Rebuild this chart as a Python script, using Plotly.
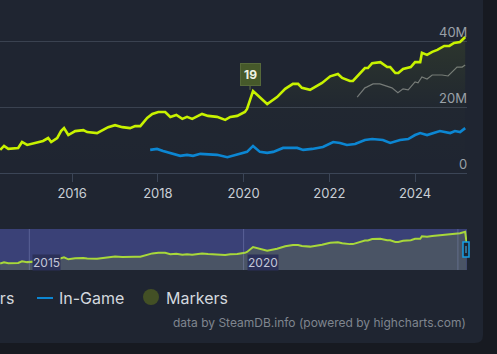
import plotly.graph_objects as go

# ---------------- data (decimal years, millions) ----------------
players_x = [2014.32, 2014.41, 2014.51, 2014.74, 2014.83, 2014.95, 2015.32, 2015.44, 2015.51, 2015.65,
             2015.74, 2015.81, 2015.91, 2016.07, 2016.26, 2016.35, 2016.58, 2016.84, 2017.00, 2017.17,
             2017.35, 2017.47, 2017.59, 2017.75, 2017.87, 2018.01, 2018.17, 2018.29, 2018.43, 2018.57,
             2018.68, 2018.80, 2019.03, 2019.17, 2019.38, 2019.57, 2019.69, 2019.85, 2020.03, 2020.08,
             2020.22, 2020.38, 2020.55, 2020.78, 2020.97, 2021.15, 2021.27, 2021.36, 2021.55, 2021.83,
             2022.02, 2022.20, 2022.30, 2022.48, 2022.55, 2022.83, 2022.90, 2023.00, 2023.19, 2023.35,
             2023.42, 2023.54, 2023.61, 2023.72, 2023.90, 2024.00, 2024.12, 2024.16, 2024.28, 2024.40,
             2024.52, 2024.68, 2024.80, 2024.91, 2025.05, 2025.17]
players_y = [7.0, 8.2, 7.3, 7.6, 9.4, 8.5, 9.7, 10.6, 9.4, 10.6,
             12.7, 13.6, 11.5, 12.7, 13.0, 12.4, 12.1, 13.9, 14.5, 13.9,
             13.6, 14.2, 14.2, 16.7, 17.9, 18.5, 18.5, 17.0, 17.6, 16.4,
             17.0, 16.4, 17.9, 17.3, 17.0, 16.1, 17.0, 17.3, 18.5, 19.4,
             24.8, 23.0, 20.9, 23.0, 25.5, 27.0, 27.0, 25.8, 25.2, 27.3,
             29.3, 30.0, 28.8, 27.9, 27.9, 31.8, 31.8, 33.3, 33.6, 32.1,
             32.1, 30.3, 30.3, 31.5, 32.1, 33.6, 33.6, 36.4, 35.8, 36.7,
             37.3, 38.5, 38.5, 39.4, 39.7, 41.2]

ingame_x = [2017.82, 2017.98, 2018.12, 2018.29, 2018.52, 2018.68, 2018.82, 2018.99, 2019.38, 2019.62,
            2019.92, 2020.08, 2020.15, 2020.22, 2020.38, 2020.55, 2020.69, 2020.92, 2021.25, 2021.39,
            2021.60, 2021.85, 2022.09, 2022.25, 2022.41, 2022.60, 2022.83, 2023.00, 2023.25, 2023.42,
            2023.65, 2023.84, 2024.00, 2024.12, 2024.28, 2024.42, 2024.58, 2024.82, 2024.93, 2025.05,
            2025.17]
ingame_y = [7.0, 7.3, 6.7, 6.1, 5.2, 5.5, 5.2, 5.8, 5.5, 4.8,
            5.8, 6.4, 7.3, 8.2, 6.4, 6.1, 6.4, 7.6, 7.6, 7.0,
            7.3, 7.9, 9.4, 9.1, 8.5, 8.8, 10.0, 10.3, 10.0, 9.1,
            10.0, 10.3, 11.5, 12.1, 11.5, 12.1, 12.7, 12.1, 12.7, 12.4,
            13.6]

grey_x = [2022.65, 2022.83, 2022.88, 2023.02, 2023.18, 2023.35, 2023.46, 2023.60, 2023.72, 2023.84,
          2024.00, 2024.07, 2024.16, 2024.28, 2024.40, 2024.63, 2024.77, 2024.98, 2025.10, 2025.17]
grey_y = [23.0, 25.8, 26.1, 27.0, 27.0, 26.4, 25.8, 24.3, 25.5, 25.2,
          27.6, 27.3, 29.1, 28.5, 29.7, 29.7, 29.4, 32.1, 32.1, 32.7]

nav_tail_x = [2025.20]
nav_tail_y = [30.0]

marker_x = [2020.15]
marker_y = [25.2]
marker_text = ["19"]

x_ticks = [2014, 2016, 2018, 2020, 2022, 2024]
y_ticks = [0, 20, 40]
y_ticktext = ["0", "20M", "40M"]
nav_ticks = [2015, 2020, 2025]
nav_labels = ["2015", "2020"]

legend_names = ["Players", "In-Game", "Markers"]
credits = "data by SteamDB.info (powered by highcharts.com)"

# ---------------- styling ----------------
W, H = 497, 354
FONT = "Inter"
LIME = "#c8f200"
BLUE = "#0c86d2"
GREY = "#73777c"
PANEL = "#1f2531"
OUTER = "#171a21"
GRID = "#3a4250"
X0, X1 = 2014.316, 2025.212

def px(x):
    return x / W

def py(y):
    return 1 - y / H

M = 1e6
fig = go.Figure()

fig.add_trace(go.Scatter(x=grey_x, y=[v * M for v in grey_y], mode="lines",
                         line=dict(color=GREY, width=1.2), hoverinfo="skip", showlegend=False))
fig.add_trace(go.Scatter(x=players_x, y=[v * M for v in players_y], mode="lines", name=legend_names[0],
                         line=dict(color=LIME, width=2.6), fill="tozeroy",
                         fillgradient=dict(type="vertical", start=0, stop=42e6,
                                           colorscale=[[0, "rgba(200,242,0,0)"], [0.45, "rgba(200,242,0,0.01)"],
                                                       [1, "rgba(200,242,0,0.085)"]]),
                         showlegend=False))
fig.add_trace(go.Scatter(x=ingame_x, y=[v * M for v in ingame_y], mode="lines", name=legend_names[1],
                         line=dict(color=BLUE, width=2.6), showlegend=False))

# navigator series
fig.add_trace(go.Scatter(x=players_x + nav_tail_x, y=[v * M for v in players_y + nav_tail_y],
                         mode="lines", line=dict(color="#a8d83a", width=2), fill="tozeroy",
                         fillcolor="#4a5465", xaxis="x2", yaxis="y2", hoverinfo="skip", showlegend=False))

shapes = []
# panel with rounded bottom-right corner
r = 8
pr, pb = 483, 343
shapes.append(dict(type="path", xref="paper", yref="paper", layer="below",
                   path=(f"M 0,1 L {px(pr)},1 L {px(pr)},{py(pb - r)} "
                         f"Q {px(pr)},{py(pb)} {px(pr - r)},{py(pb)} L 0,{py(pb)} Z"),
                   fillcolor=PANEL, line=dict(width=0)))
# navigator mask
shapes.append(dict(type="rect", xref="x2 domain", yref="y2 domain", x0=0, x1=1, y0=0, y1=1,
                   layer="below", fillcolor="#3a4177", line=dict(width=0)))
for t in nav_ticks:
    shapes.append(dict(type="line", xref="x2", yref="y2 domain", x0=t, x1=t, y0=0, y1=1,
                       layer="above", line=dict(color="rgba(150,160,210,0.35)", width=1)))
# navigator handle (right)
shapes.append(dict(type="rect", xref="paper", yref="paper", x0=px(463), x1=px(469), y0=py(257), y1=py(242),
                   fillcolor=PANEL, line=dict(color="#169ee6", width=1.5), layer="above"))
shapes.append(dict(type="line", xref="paper", yref="paper", x0=px(466), x1=px(466), y0=py(253), y1=py(246),
                   line=dict(color="#4fb8f0", width=1), layer="above"))
# legend symbols
shapes.append(dict(type="line", xref="paper", yref="paper", x0=px(37), x1=px(53), y0=py(298), y1=py(298),
                   line=dict(color=BLUE, width=2)))
shapes.append(dict(type="circle", xref="paper", yref="paper", x0=px(143), x1=px(159), y0=py(305), y1=py(289),
                   fillcolor="#435025", line=dict(width=0)))

annotations = []
# y-axis labels (right, above gridlines)
for v, lab in zip(y_ticks, y_ticktext):
    annotations.append(dict(x=px(468), y=v * M, xref="paper", yref="y", text=lab, showarrow=False,
                            xanchor="right", yanchor="bottom", borderpad=0, yshift=0,
                            font=dict(family=FONT, size=13, color="#9aa1a8")))
# flag marker
for mx, my, mt in zip(marker_x, marker_y, marker_text):
    annotations.append(dict(x=mx, y=my * M, xref="x", yref="y", text=f"<b>{mt}</b>", showarrow=True,
                            arrowhead=0, arrowwidth=1, arrowcolor="#66754a", ax=0, ay=-15,
                            bgcolor="#46592a", bordercolor="#56693a", borderwidth=1, borderpad=3,
                            font=dict(family=FONT, size=12, color="#eef2e4")))
# navigator labels
for t, lab in zip(nav_ticks, nav_labels):
    annotations.append(dict(x=t, y=py(262), xref="x2", yref="paper", text=lab, showarrow=False,
                            xanchor="left", yanchor="middle", xshift=3, bgcolor="#2c3159", borderpad=0,
                            font=dict(family=FONT, size=12, color="#c3c6d8")))
# legend texts
annotations.append(dict(x=px(16), y=py(298), xref="paper", yref="paper", text=legend_names[0],
                        showarrow=False, xanchor="right", yanchor="middle",
                        font=dict(family=FONT, size=16, color="#d3d8de")))
annotations.append(dict(x=px(57), y=py(298), xref="paper", yref="paper", text=legend_names[1],
                        showarrow=False, xanchor="left", yanchor="middle",
                        font=dict(family=FONT, size=16, color="#d3d8de")))
annotations.append(dict(x=px(164), y=py(298), xref="paper", yref="paper", text=legend_names[2],
                        showarrow=False, xanchor="left", yanchor="middle",
                        font=dict(family=FONT, size=16, color="#d3d8de")))
# credits
annotations.append(dict(x=px(468), y=py(322), xref="paper", yref="paper", text=credits,
                        showarrow=False, xanchor="right", yanchor="middle",
                        font=dict(family=FONT, size=12, color="#7f868f")))

fig.update_layout(
    width=W, height=H, margin=dict(l=0, r=0, t=0, b=0, pad=0),
    paper_bgcolor=OUTER, plot_bgcolor="rgba(0,0,0,0)",
    font=dict(family=FONT), showlegend=False,
    shapes=shapes, annotations=annotations,
    xaxis=dict(domain=[0, px(467)], range=[X0, X1], anchor="y",
               tickvals=x_ticks, ticktext=[str(t) for t in x_ticks],
               ticks="outside", ticklen=8, tickwidth=1, tickcolor="#3b4556",
               showline=True, linecolor="#3b4556", linewidth=1, showgrid=False, zeroline=False,
               tickfont=dict(family=FONT, size=13, color="#c9cfd6")),
    yaxis=dict(domain=[py(173), 1], range=[0, 173 / 3.3 * M], anchor="x",
               tickvals=[v * M for v in y_ticks], showticklabels=False,
               showgrid=True, gridcolor=GRID, gridwidth=1, zeroline=False, showline=False),
    xaxis2=dict(domain=[0, px(467)], range=[X0, X1], anchor="y2", visible=False),
    yaxis2=dict(domain=[py(270), py(229)], range=[0, 44.2 * M], anchor="x2", visible=False),
)

fig.write_html("out.html")
